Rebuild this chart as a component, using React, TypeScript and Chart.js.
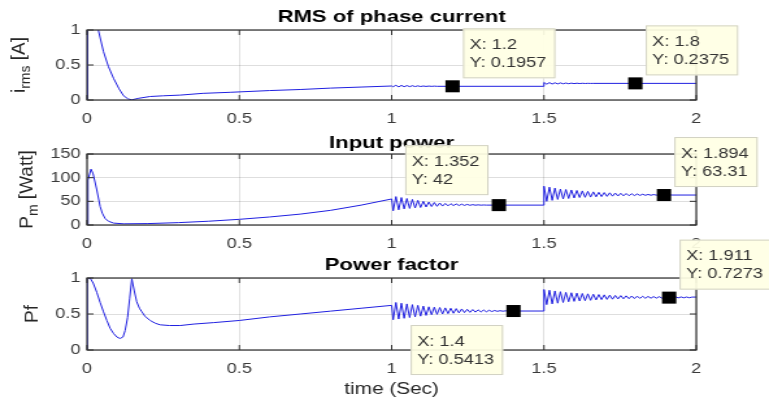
import React, { useEffect, useRef } from "react";
import { Chart, registerables } from "chart.js";

Chart.register(...registerables);

// ---------------- data ----------------
const xTicks = [0, 0.5, 1, 1.5, 2];
const currentYTicks = [0, 0.5, 1];
const powerYTicks = [0, 50, 100, 150];
const pfYTicks = [0, 0.5, 1];

const OSC_STEP = 0.009; // sample spacing of the ripple segments (s)
const RIPPLE1_START = 1.005;
const RIPPLE2_START = 1.5;
const HOLD_END = 1.5;
const SIM_END = 2;

// RMS of phase current
const currentTime = [0, 0.002, 0.02, 0.037, 0.054, 0.07, 0.087, 0.105, 0.12, 0.135, 0.147, 0.17, 0.207, 0.25, 0.306, 0.38, 0.47, 0.6, 0.7, 0.8, 0.9, 1.0];
const currentValues = [0, 2.5, 1.6, 1.0, 0.69, 0.48, 0.31, 0.16, 0.06, 0.015, 0.003, 0.025, 0.05, 0.06, 0.07, 0.095, 0.11, 0.135, 0.15, 0.17, 0.185, 0.2];
const currentRipple1 = [0.19, 0.21, 0.188, 0.208, 0.19, 0.206, 0.191, 0.204, 0.192, 0.202, 0.193, 0.2, 0.194, 0.199, 0.195, 0.198, 0.1957];
const currentRipple2 = [0.25, 0.226, 0.248, 0.228, 0.246, 0.23, 0.244, 0.232, 0.242, 0.233, 0.241, 0.234, 0.24, 0.235, 0.239, 0.236, 0.238, 0.237, 0.2375];

// Input power
const powerTime = [0, 0.003, 0.013, 0.02, 0.032, 0.043, 0.05, 0.059, 0.07, 0.087, 0.12, 0.2, 0.3, 0.4, 0.5, 0.6, 0.7, 0.8, 0.9, 1.0];
const powerValues = [0, 95, 118, 108, 74, 39, 25, 14, 8, 4, 2.5, 3, 5, 8, 12, 17, 23, 31, 42, 55];
const powerRipple1 = [30, 60, 32, 58, 34, 56, 35, 54, 36, 52, 37, 50, 38, 48.5, 39, 47.5, 39.5, 46.5, 40, 45.5, 40.5, 45, 41, 44.5, 41.2, 44, 41.4, 43.5, 41.6, 43, 41.8, 42.6, 41.9, 42.3, 42];
const powerRipple2 = [82, 50, 80, 52, 78, 54, 76, 55, 75, 56, 74, 57, 73, 58, 72, 58.5, 71, 59, 70, 59.5, 69, 60, 68.5, 60.5, 68, 61, 67.5, 61.3, 67, 61.6, 66.5, 61.9, 66, 62.2, 65.5, 62.5, 65, 62.7, 64.6, 62.9, 64.3, 63.1, 64, 63.2, 63.7, 63.3, 63.5, 63.31];

// Power factor
const pfTime = [0, 0.001, 0.01, 0.02, 0.032, 0.043, 0.054, 0.065, 0.076, 0.087, 0.098, 0.108, 0.118, 0.125, 0.133, 0.14, 0.147, 0.155, 0.163, 0.172, 0.18, 0.19, 0.207, 0.225, 0.24, 0.27, 0.306, 0.35, 0.415, 0.5, 0.6, 0.7, 0.8, 0.9, 1.0];
const pfValues = [0, 1.0, 1.0, 0.93, 0.8, 0.66, 0.53, 0.41, 0.3, 0.23, 0.18, 0.16, 0.18, 0.27, 0.45, 0.72, 0.99, 0.82, 0.67, 0.58, 0.53, 0.47, 0.41, 0.37, 0.35, 0.34, 0.34, 0.36, 0.38, 0.41, 0.46, 0.5, 0.54, 0.58, 0.62];
const pfRipple1 = [0.42, 0.66, 0.43, 0.65, 0.44, 0.64, 0.45, 0.63, 0.46, 0.62, 0.47, 0.61, 0.48, 0.6, 0.49, 0.595, 0.495, 0.59, 0.5, 0.585, 0.505, 0.58, 0.51, 0.575, 0.515, 0.57, 0.52, 0.565, 0.523, 0.562, 0.526, 0.558, 0.529, 0.555, 0.531, 0.552, 0.534, 0.549, 0.537, 0.546, 0.539, 0.544, 0.5413];
const pfRipple2 = [0.84, 0.63, 0.83, 0.64, 0.82, 0.65, 0.81, 0.66, 0.8, 0.67, 0.795, 0.675, 0.79, 0.68, 0.785, 0.685, 0.78, 0.69, 0.775, 0.695, 0.77, 0.7, 0.766, 0.703, 0.762, 0.706, 0.758, 0.709, 0.755, 0.711, 0.752, 0.713, 0.75, 0.715, 0.748, 0.717, 0.746, 0.718, 0.744, 0.719, 0.742, 0.72, 0.741, 0.721, 0.74, 0.722, 0.739, 0.723, 0.738, 0.724, 0.737, 0.725, 0.736, 0.726, 0.735];

// data tips
const currentTipX = [1.2, 1.8];
const currentTipY = [0.1957, 0.2375];
const powerTipX = [1.352, 1.894];
const powerTipY = [42, 63.31];
const pfTipX = [1.4, 1.911];
const pfTipY = [0.5413, 0.7273];

// ---------------- layout / style ----------------
const FULL_W = 769;
const LOGICAL_W = 592;
const FONT = "'Liberation Sans', Arial, Helvetica, sans-serif";
const AXIS_COLOR = "#2e2e2e";
const LINE_COLOR = "#1f1fe0";
const TICK_LEN = 5;

function buildSeries(t: number[], v: number[], r1: number[], r2: number[]) {
  const pts: { x: number; y: number }[] = t.map((x, i) => ({ x, y: v[i] }));
  r1.forEach((y, i) => pts.push({ x: RIPPLE1_START + i * OSC_STEP, y }));
  pts.push({ x: HOLD_END, y: r1[r1.length - 1] });
  r2.forEach((y, i) => pts.push({ x: RIPPLE2_START + i * OSC_STEP, y }));
  pts.push({ x: SIM_END, y: r2[r2.length - 1] });
  return pts;
}

type Panel = {
  canvasTop: number;
  canvasH: number;
  padTop: number;
  xAxisH: number;
  titleY: number;
  title: string;
  ylabel: [string, string, string];
  ylabelX: number;
  xlabel?: string;
  xlabelY?: number;
  yTicks: number[];
  data: { x: number; y: number }[];
  tipX: number[];
  tipY: number[];
  tipPlace: string[];
};

const panels: Panel[] = [
  {
    canvasTop: 0, canvasH: 130, padTop: 30, xAxisH: 30, titleY: 17,
    title: "RMS of phase current", ylabel: ["i", "rms", " [A]"], ylabelX: 18.5,
    yTicks: currentYTicks, data: buildSeries(currentTime, currentValues, currentRipple1, currentRipple2),
    tipX: currentTipX, tipY: currentTipY, tipPlace: ["ur", "ur"],
  },
  {
    canvasTop: 130, canvasH: 125, padTop: 24, xAxisH: 30, titleY: 13,
    title: "Input power", ylabel: ["P", "m", " [Watt]"], ylabelX: 24.5,
    yTicks: powerYTicks, data: buildSeries(powerTime, powerValues, powerRipple1, powerRipple2),
    tipX: powerTipX, tipY: powerTipY, tipPlace: ["ul", "ur"],
  },
  {
    canvasTop: 230, canvasH: 173, padTop: 48, xAxisH: 53, titleY: 35,
    title: "Power factor", ylabel: ["Pf", "", ""], ylabelX: 29,
    xlabel: "time (Sec)", xlabelY: 160,
    yTicks: pfYTicks, data: buildSeries(pfTime, pfValues, pfRipple1, pfRipple2),
    tipX: pfTipX, tipY: pfTipY, tipPlace: ["dl", "ur"],
  },
];

function makeDecor(p: Panel) {
  return {
    id: "decor",
    afterDraw(chart: any) {
      const ctx: CanvasRenderingContext2D = chart.ctx;
      const a = chart.chartArea;
      const xs = chart.scales.x;
      const ys = chart.scales.y;
      ctx.save();
      // inward ticks on all four sides
      ctx.strokeStyle = AXIS_COLOR;
      ctx.lineWidth = 1;
      ctx.beginPath();
      xTicks.forEach((v) => {
        const px = xs.getPixelForValue(v);
        ctx.moveTo(px, a.bottom);
        ctx.lineTo(px, a.bottom - TICK_LEN);
        ctx.moveTo(px, a.top);
        ctx.lineTo(px, a.top + TICK_LEN);
      });
      p.yTicks.forEach((v) => {
        const py = ys.getPixelForValue(v);
        ctx.moveTo(a.left, py);
        ctx.lineTo(a.left + TICK_LEN, py);
        ctx.moveTo(a.right, py);
        ctx.lineTo(a.right - TICK_LEN, py);
      });
      ctx.stroke();
      ctx.lineWidth = 1.2;
      ctx.strokeRect(a.left, a.top, a.right - a.left, a.bottom - a.top);

      // title
      ctx.fillStyle = "#000";
      ctx.font = `bold 17px ${FONT}`;
      ctx.textAlign = "center";
      ctx.textBaseline = "middle";
      ctx.fillText(p.title, (a.left + a.right) / 2, p.titleY);

      // x label
      if (p.xlabel) {
        ctx.fillStyle = "#262626";
        ctx.font = `16px ${FONT}`;
        ctx.fillText(p.xlabel, (a.left + a.right) / 2, p.xlabelY as number);
      }

      // y label with subscript
      const [main, sub, rest] = p.ylabel;
      const mainFont = `19px ${FONT}`;
      const subFont = `14px ${FONT}`;
      ctx.font = mainFont;
      const w1 = ctx.measureText(main).width;
      const w3 = ctx.measureText(rest).width;
      ctx.font = subFont;
      const w2 = sub ? ctx.measureText(sub).width : 0;
      ctx.save();
      ctx.translate(p.ylabelX, (a.top + a.bottom) / 2);
      ctx.rotate(-Math.PI / 2);
      ctx.scale(1, 0.8);
      ctx.fillStyle = "#262626";
      ctx.textAlign = "left";
      ctx.textBaseline = "alphabetic";
      let cx = -(w1 + w2 + w3) / 2;
      ctx.font = mainFont;
      ctx.fillText(main, cx, 0);
      cx += w1;
      if (sub) {
        ctx.font = subFont;
        ctx.fillText(sub, cx, 5);
        cx += w2;
      }
      ctx.font = mainFont;
      if (rest) ctx.fillText(rest, cx, 0);
      ctx.restore();

      // data tips
      p.tipX.forEach((tx, i) => {
        const ty = p.tipY[i];
        const mx = xs.getPixelForValue(tx);
        const my = ys.getPixelForValue(ty);
        const l1 = "X: " + String(tx);
        const l2 = "Y: " + String(ty);
        ctx.font = `14px ${FONT}`;
        const tw = Math.max(ctx.measureText(l1).width, ctx.measureText(l2).width);
        const bw = tw + 12;
        const bh = 50;
        const place = p.tipPlace[i];
        let bx = mx + 8;
        let by = my - 8 - bh;
        if (place === "ul") { bx = mx - 8 - bw; by = my - 10 - bh; }
        if (place === "dl") { bx = mx - 8 - bw; by = my + 14; }
        ctx.fillStyle = "rgba(255,255,228,0.93)";
        ctx.fillRect(bx, by, bw, bh);
        ctx.strokeStyle = "#d2d2c4";
        ctx.lineWidth = 1;
        ctx.strokeRect(bx + 0.5, by + 0.5, bw - 1, bh - 1);
        ctx.fillStyle = "#333";
        ctx.textAlign = "left";
        ctx.textBaseline = "middle";
        ctx.fillText(l1, bx + 5, by + 17);
        ctx.fillText(l2, bx + 5, by + 35);
        // marker
        ctx.fillStyle = "#000";
        ctx.fillRect(mx - 5.5, my - 6, 11, 12);
      });
      ctx.restore();
    },
  };
}

function PanelChart({ p }: { p: Panel }) {
  const ref = useRef<HTMLCanvasElement>(null);
  useEffect(() => {
    const canvas = ref.current as HTMLCanvasElement;
    const chart = new Chart(canvas, {
      type: "line",
      data: {
        datasets: [
          {
            data: p.data as any,
            borderColor: LINE_COLOR,
            borderWidth: 1,
            pointRadius: 0,
            tension: 0,
            fill: false,
            clip: 0 as any,
          },
        ],
      },
      options: {
        responsive: false,
        animation: false,
        devicePixelRatio: 1,
        events: [],
        layout: { padding: { left: 0, right: 56, top: p.padTop, bottom: 0 } },
        plugins: { legend: { display: false }, tooltip: { enabled: false }, title: { display: false } },
        scales: {
          x: {
            type: "linear",
            min: xTicks[0],
            max: xTicks[xTicks.length - 1],
            afterBuildTicks: (s: any) => { s.ticks = xTicks.map((v) => ({ value: v })); },
            afterFit: (s: any) => { s.height = p.xAxisH; },
            grid: { color: "rgba(0,0,0,0.13)", drawTicks: false },
            border: { display: false },
            ticks: {
              padding: 11,
              maxRotation: 0,
              autoSkip: false,
              color: "#3a3a3a",
              font: { family: FONT, size: 14 },
              callback: (v: any) => String(v),
            },
          },
          y: {
            type: "linear",
            min: p.yTicks[0],
            max: p.yTicks[p.yTicks.length - 1],
            afterBuildTicks: (s: any) => { s.ticks = p.yTicks.map((v) => ({ value: v })); },
            afterFit: (s: any) => { s.width = 67; },
            grid: { color: "rgba(0,0,0,0.13)", drawTicks: false },
            border: { display: false },
            ticks: {
              padding: 5,
              autoSkip: false,
              color: "#3a3a3a",
              font: { family: FONT, size: 14 },
              callback: (v: any) => String(v),
            },
          },
        },
      },
      plugins: [makeDecor(p)],
    } as any);
    return () => chart.destroy();
  }, [p]);
  return (
    <canvas
      ref={ref}
      width={LOGICAL_W}
      height={p.canvasH}
      style={{ position: "absolute", left: 0, top: p.canvasTop, width: FULL_W, height: p.canvasH }}
    />
  );
}

export default function App() {
  return (
    <div style={{ position: "absolute", left: 0, top: 0, width: FULL_W, height: 403, background: "#fff", overflow: "hidden" }}>
      {panels.map((p, i) => (
        <PanelChart key={i} p={p} />
      ))}
    </div>
  );
}
